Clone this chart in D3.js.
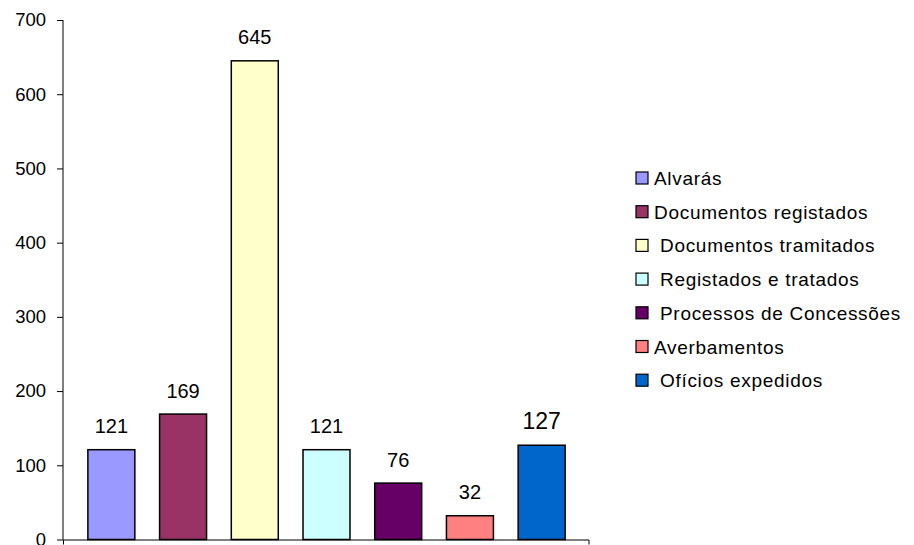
<!DOCTYPE html>
<html><head><meta charset="utf-8">
<script src="https://cdn.jsdelivr.net/npm/d3@7"></script>
<style>
html,body{margin:0;padding:0;background:#fff;}
svg{display:block;font-family:"Liberation Sans",Arial,sans-serif;}
</style></head>
<body><svg id="c" width="914" height="545"></svg>
<script>
const series = ["Alvarás","Documentos registados","Documentos tramitados","Registados e tratados","Processos de Concessões","Averbamentos","Ofícios expedidos"];
const legendLabels = ["Alvarás","Documentos registados"," Documentos tramitados"," Registados e tratados"," Processos de Concessões","Averbamentos"," Ofícios expedidos"];
const values = [121,169,645,121,76,32,127];
const colors = ["#9999FF","#993366","#FFFFCC","#CCFFFF","#660066","#FF8080","#0066CC"];
const yTicks = [0,100,200,300,400,500,600,700];
const labelSizes = [20,20,20,20,20,20,23];

const svg = d3.select("#c");
const y = d3.scaleLinear().domain([0,700]).range([539.5,20]);
const x = d3.scaleBand().domain(series).range([75.5,577.5]).paddingInner(0.345).paddingOuter(0.1725);

// bars
svg.append("g").selectAll("rect").data(values).join("rect")
  .attr("x",(d,i)=>x(series[i]))
  .attr("y",d=>y(d))
  .attr("width",x.bandwidth())
  .attr("height",d=>y(0)-y(d))
  .attr("fill",(d,i)=>colors[i])
  .attr("stroke","#000").attr("stroke-width",1.5);

// value labels
svg.append("g").selectAll("text").data(values).join("text")
  .attr("x",(d,i)=>x(series[i])+x.bandwidth()/2)
  .attr("y",d=>y(d)-16.5)
  .attr("text-anchor","middle")
  .attr("font-size",(d,i)=>labelSizes[i]+"px")
  .attr("fill","#000")
  .text(d=>d);

// y axis
const yAxis = d3.axisLeft(y).tickValues(yTicks).tickSize(6).tickPadding(11);
const gy = svg.append("g").attr("transform","translate(63,0)").call(yAxis);
gy.select(".domain").attr("stroke","#000").attr("d","M0,20V540");
gy.selectAll(".tick line").attr("stroke","#000");
gy.selectAll(".tick text").attr("font-size","18.5px").attr("font-family","Liberation Sans, Arial, sans-serif").attr("fill","#000");

// x axis line
const gx = svg.append("g").attr("transform","translate(0,539.5)")
  .call(d3.axisBottom(d3.scaleLinear().domain([0,1]).range([63,588.5])).tickValues([]).tickSizeOuter(5));
gx.select(".domain").attr("stroke","#000");

// legend
const lg = svg.append("g");
const rows = lg.selectAll("g").data(series).join("g")
  .attr("transform",(d,i)=>`translate(636,${178+i*33.7})`);
rows.append("rect").attr("x",0).attr("y",-6).attr("width",12).attr("height",12)
  .attr("fill",(d,i)=>colors[i]).attr("stroke","#000").attr("stroke-width",1.2);
rows.append("text").attr("x",18).attr("y",7).attr("font-size","19px").attr("fill","#000")
  .attr("letter-spacing","0.7px")
  .style("white-space","pre").attr("xml:space","preserve")
  .text((d,i)=>legendLabels[i]);
</script></body></html>
